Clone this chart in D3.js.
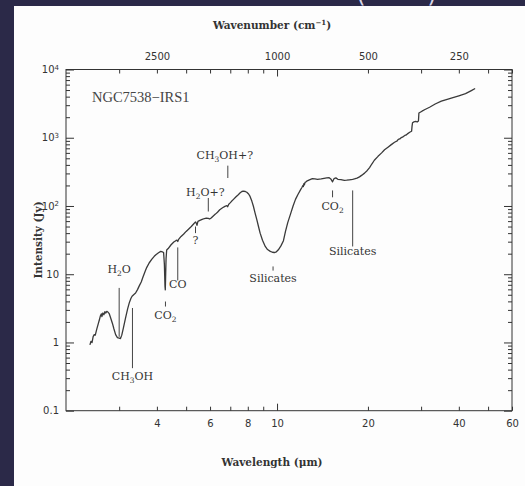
<!DOCTYPE html>
<html>
<head>
<meta charset="utf-8">
<script src="https://cdn.jsdelivr.net/npm/d3@7"></script>
<style>
  html, body { margin: 0; padding: 0; background: #2b2948; }
  svg { display: block; }
</style>
</head>
<body>
<svg id="chart" width="525" height="486"></svg>
<script>
// Infrared spectrum of NGC7538-IRS1: wavelength (μm) and flux density (Jy)
const wavelength = [
  2.40, 2.42, 2.44, 2.46, 2.48, 2.50, 2.53, 2.56, 2.58, 2.60, 2.62, 2.63, 2.65, 2.67, 2.69, 2.71,
  2.73, 2.75, 2.78, 2.81, 2.85, 2.88, 2.92, 2.96, 3.00, 3.03, 3.06, 3.10, 3.15, 3.20, 3.24, 3.28,
  3.31, 3.35, 3.40, 3.45, 3.50, 3.55, 3.60, 3.65, 3.70, 3.77, 3.85, 3.92, 3.97, 4.05, 4.12, 4.17,
  4.21, 4.235, 4.255, 4.265, 4.275, 4.29, 4.31, 4.36, 4.45, 4.55, 4.62, 4.66, 4.69, 4.72, 4.81, 4.90,
  5.00, 5.10, 5.20, 5.30, 5.37, 5.40, 5.43, 5.47, 5.55, 5.65, 5.75, 5.83, 5.92, 5.98, 6.05, 6.15,
  6.25, 6.35, 6.46, 6.60, 6.72, 6.82, 6.86, 6.92, 6.98, 7.08, 7.16, 7.30, 7.44, 7.55, 7.65, 7.73,
  7.85, 7.94, 8.05, 8.14, 8.25, 8.35, 8.45, 8.57, 8.68, 8.79, 8.95, 9.14, 9.30, 9.50, 9.65, 9.80,
  9.95, 10.1, 10.3, 10.5, 10.66, 10.85, 11.08, 11.30, 11.51, 11.75, 11.97, 12.10, 12.18, 12.22, 12.27, 12.32,
  12.38, 12.45, 12.59, 12.80, 13.09, 13.35, 13.61, 14.00, 14.31, 14.60, 14.88, 15.10, 15.27, 15.45, 15.66, 15.90,
  16.28, 16.70, 17.00, 17.36, 17.80, 18.04, 18.40, 18.75, 19.10, 19.49, 19.90, 20.25, 20.60, 21.00, 21.60, 22.20,
  22.70, 23.30, 23.90, 24.50, 25.00, 25.20, 25.50, 25.80, 26.20, 26.50, 26.80, 27.10, 27.50, 27.90, 28.00, 28.10,
  28.40, 28.80, 29.10, 29.40, 29.50, 30.20, 30.90, 32.00, 33.40, 35.00, 36.60, 38.00, 40.00, 42.10, 44.00, 45.30
];
const intensity = [
  0.92, 1.04, 1.00, 1.22, 1.30, 1.28, 1.58, 1.90, 2.15, 2.45, 2.62, 2.40, 2.70, 2.55, 2.82, 2.70,
  2.86, 2.80, 2.65, 2.30, 1.90, 1.60, 1.30, 1.18, 1.16, 1.14, 1.28, 1.65, 2.30, 3.10, 3.80, 4.40,
  4.75, 5.00, 5.30, 5.95, 6.80, 7.70, 9.20, 10.8, 12.5, 14.6, 16.6, 18.3, 19.3, 20.6, 21.6, 21.2,
  20.8, 14.0, 6.6, 5.9, 9.0, 17.0, 22.6, 23.8, 26.8, 29.6, 31.0, 31.6, 30.2, 32.4, 35.8, 38.6,
  42.4, 46.0, 50.0, 55.0, 58.5, 56.0, 52.0, 59.5, 61.5, 63.5, 65.5, 66.6, 65.8, 64.4, 66.5, 71.5,
  76.0, 81.0, 88.0, 94.0, 98.6, 101, 97.5, 106, 110, 118, 124, 135, 146, 156, 163, 165,
  163, 159, 150, 138, 118, 99, 80, 63, 50, 40, 31.5, 25.5, 23.0, 21.6, 21.0, 20.8,
  21.3, 22.8, 26.0, 31.0, 42.0, 57.0, 76.0, 100, 125, 150, 174, 188, 200, 192, 212, 204,
  222, 224, 234, 242, 252, 250, 246, 250, 254, 258, 260, 246, 226, 252, 258, 246,
  243, 238, 239, 242, 245, 249, 256, 267, 283, 303, 332, 365, 412, 468, 534, 600,
  668, 728, 793, 860, 900, 945, 960, 1005, 1040, 1080, 1100, 1150, 1202, 1243, 1480, 1660,
  1710, 1735, 1700, 1760, 2300, 2450, 2590, 2800, 3120, 3430, 3660, 3840, 4120, 4420, 4900, 5260
];

// Axis ticks
const wavelengthMinorTicks = [3, 4, 5, 6, 7, 8, 9, 20, 30, 40, 50, 60];
const wavelengthMajorTicks = [10];
const wavelengthTickLabels = [4, 6, 8, 10, 20, 40, 60];
const wavenumberTickLabels = [2500, 1000, 500, 250];
const intensityDecades = [0.1, 1, 10, 100, 1000, 10000];
const intensityDecadeLabels = ["0.1", "1", "10", "10^2", "10^3", "10^4"];

// Band identifications: wavelength, marker line extent (Jy), label baseline (Jy)
const bandLabels = [
  { label: "H{2}O",     lam: 3.00,  top: 6.3,  bottom: 1.21, text: 10.5, dx: 0 },
  { label: "CH{3}OH",   lam: 3.32,  top: 3.2,  bottom: 0.42, text: 0.28, dx: 0 },
  { label: "CO{2}",     lam: 4.27,  top: 3.98, bottom: 3.36, text: 2.22, dx: 0 },
  { label: "CO",        lam: 4.69,  top: 24.7, bottom: 8.1,  text: 6.2,  dx: 0 },
  { label: "?",         lam: 5.37,  top: 50,   bottom: 40,   text: 27.9, dx: 0 },
  { label: "H{2}O+?",   lam: 5.92,  top: 131,  bottom: 83,   text: 142,  dx: -3 },
  { label: "CH{3}OH+?", lam: 6.87,  top: 390,  bottom: 257,  text: 494,  dx: -3 },
  { label: "Silicates", lam: 9.7,   top: 13,   bottom: 11.3, text: 7.74, dx: 0 },
  { label: "CO{2}",     lam: 15.27, top: 169,  bottom: 134,  text: 88,   dx: 0 },
  { label: "Silicates", lam: 17.8,  top: 169,  bottom: 25.5, text: 19.3, dx: 0 }
];

const ink = "#333";
const svg = d3.select("#chart");

// paper sheet on the slide background
svg.append("rect").attr("x", 14).attr("y", 6).attr("width", 511).attr("height", 480).attr("fill", "#fdfdfd");
// bottom of the slide heading's brackets
svg.append("text").attr("x", 361).attr("y", 2).attr("text-anchor", "middle")
  .attr("font-family", "DejaVu Sans").attr("font-size", 24).attr("fill", "#d8d6e8").text("(");
svg.append("text").attr("x", 432).attr("y", 2).attr("text-anchor", "middle")
  .attr("font-family", "DejaVu Sans").attr("font-size", 24).attr("fill", "#d8d6e8").text(")");

const plotLeft = 66, plotRight = 512, plotTop = 69.5, plotBottom = 410.7;

const x = d3.scaleLog().domain([2, 60]).range([plotLeft, plotRight]);
const xTop = d3.scaleLog().domain([1e4 / 2, 1e4 / 60]).range([plotLeft, plotRight]);
const y = d3.scaleLog().domain([0.1, 1e4]).range([plotBottom, plotTop]);

const intensityMinorTicks = [];
intensityDecades.slice(0, -1).forEach(d => {
  for (let m = 2; m <= 9; m++) intensityMinorTicks.push(d * m);
});

function styleAxis(g) {
  g.select(".domain").remove();
  g.selectAll(".tick line").attr("stroke", ink).attr("stroke-width", 1);
  g.selectAll(".tick text").attr("fill", ink).attr("font-family", "DejaVu Sans").attr("font-size", 10);
}

// bottom axis (wavelength)
const gB = svg.append("g").attr("transform", `translate(0,${plotBottom})`);
gB.append("g").call(d3.axisBottom(x).tickValues(wavelengthMinorTicks).tickSize(-4).tickFormat("")).call(styleAxis);
gB.append("g").call(d3.axisBottom(x).tickValues(wavelengthMajorTicks).tickSize(-7).tickFormat("")).call(styleAxis);
gB.append("g").call(d3.axisBottom(x).tickValues(wavelengthTickLabels).tickSize(0).tickPadding(9).tickFormat(d3.format("d"))).call(styleAxis);

// top axis (wavenumber)
const gT = svg.append("g").attr("transform", `translate(0,${plotTop})`);
gT.append("g").call(d3.axisTop(xTop).tickValues(wavelengthMinorTicks.map(l => 1e4 / l)).tickSize(-4).tickFormat("")).call(styleAxis);
gT.append("g").call(d3.axisTop(xTop).tickValues(wavelengthMajorTicks.map(l => 1e4 / l)).tickSize(-7).tickFormat("")).call(styleAxis);
gT.append("g").call(d3.axisTop(xTop).tickValues(wavenumberTickLabels).tickSize(0).tickPadding(10).tickFormat(d3.format("d"))).call(styleAxis);

// left and right axes (intensity)
const gL = svg.append("g").attr("transform", `translate(${plotLeft},0)`);
gL.append("g").call(d3.axisLeft(y).tickValues(intensityMinorTicks).tickSize(-4).tickFormat("")).call(styleAxis);
gL.append("g").call(d3.axisLeft(y).tickValues(intensityDecades).tickSize(-8).tickFormat("")).call(styleAxis);
const gLab = gL.append("g").call(d3.axisLeft(y).tickValues(intensityDecades).tickSize(0).tickPadding(7)
  .tickFormat((d, i) => intensityDecadeLabels[i])).call(styleAxis);
gLab.selectAll(".tick text").each(function () {
  const t = d3.select(this);
  const s = t.text();
  if (s.includes("^")) {
    const [base, exp] = s.split("^");
    t.text(null);
    t.append("tspan").text(base);
    t.append("tspan").attr("font-size", 7).attr("dy", "-0.5em").text(exp);
  }
});
const gR = svg.append("g").attr("transform", `translate(${plotRight},0)`);
gR.append("g").call(d3.axisRight(y).tickValues(intensityMinorTicks).tickSize(-4).tickFormat("")).call(styleAxis);
gR.append("g").call(d3.axisRight(y).tickValues(intensityDecades).tickSize(-8).tickFormat("")).call(styleAxis);

// plot frame
svg.append("rect").attr("x", plotLeft).attr("y", plotTop).attr("width", plotRight - plotLeft).attr("height", plotBottom - plotTop)
  .attr("fill", "none").attr("stroke", ink).attr("stroke-width", 1);

// spectrum
const points = wavelength.map((w, i) => [w, intensity[i]]);
svg.append("path").datum(points)
  .attr("fill", "none").attr("stroke", "#3a3a3a").attr("stroke-width", 1.3).attr("stroke-linejoin", "round")
  .attr("d", d3.line().x(d => x(d[0])).y(d => y(d[1])));

// text with {n} subscripts
function richText(sel, str, size) {
  const parts = str.split(/(\{[^}]*\})/).filter(p => p.length);
  let shifted = false;
  parts.forEach(p => {
    if (p.startsWith("{")) {
      sel.append("tspan").attr("font-size", size * 0.68).attr("dy", size * 0.3).text(p.slice(1, -1));
      shifted = true;
    } else {
      const ts = sel.append("tspan").text(p);
      if (shifted) { ts.attr("dy", -size * 0.3); shifted = false; }
    }
  });
}

const bands = svg.append("g");
bandLabels.forEach(b => {
  bands.append("line")
    .attr("x1", x(b.lam)).attr("x2", x(b.lam))
    .attr("y1", y(b.top)).attr("y2", y(b.bottom))
    .attr("stroke", "#444").attr("stroke-width", 1);
  const t = bands.append("text")
    .attr("x", x(b.lam) + b.dx).attr("y", y(b.text))
    .attr("text-anchor", "middle").attr("font-family", "DejaVu Serif").attr("font-size", 11).attr("fill", ink);
  richText(t, b.label, 11);
});

// source name
svg.append("text").attr("x", 92).attr("y", 102)
  .attr("font-family", "Liberation Serif").attr("font-size", 14.5).attr("fill", "#444")
  .text("NGC7538\u2212IRS1");

// axis titles
const titleFont = { family: "DejaVu Serif", size: 10.5 };
svg.append("text").attr("x", 272).attr("y", 466).attr("text-anchor", "middle")
  .attr("font-family", titleFont.family).attr("font-weight", "bold").attr("font-size", titleFont.size).attr("fill", ink)
  .text("Wavelength (\u03bcm)");
const wt = svg.append("text").attr("x", 272).attr("y", 29).attr("text-anchor", "middle")
  .attr("font-family", titleFont.family).attr("font-weight", "bold").attr("font-size", titleFont.size).attr("fill", ink);
wt.append("tspan").text("Wavenumber (cm");
wt.append("tspan").attr("font-size", 7).attr("dy", "-0.55em").text("\u22121");
wt.append("tspan").attr("dy", "0.4em").text(")");
svg.append("text").attr("transform", "translate(42,240) rotate(-90)").attr("text-anchor", "middle")
  .attr("font-family", titleFont.family).attr("font-weight", "bold").attr("font-size", titleFont.size).attr("fill", ink)
  .text("Intensity (Jy)");
</script>
</body>
</html>
